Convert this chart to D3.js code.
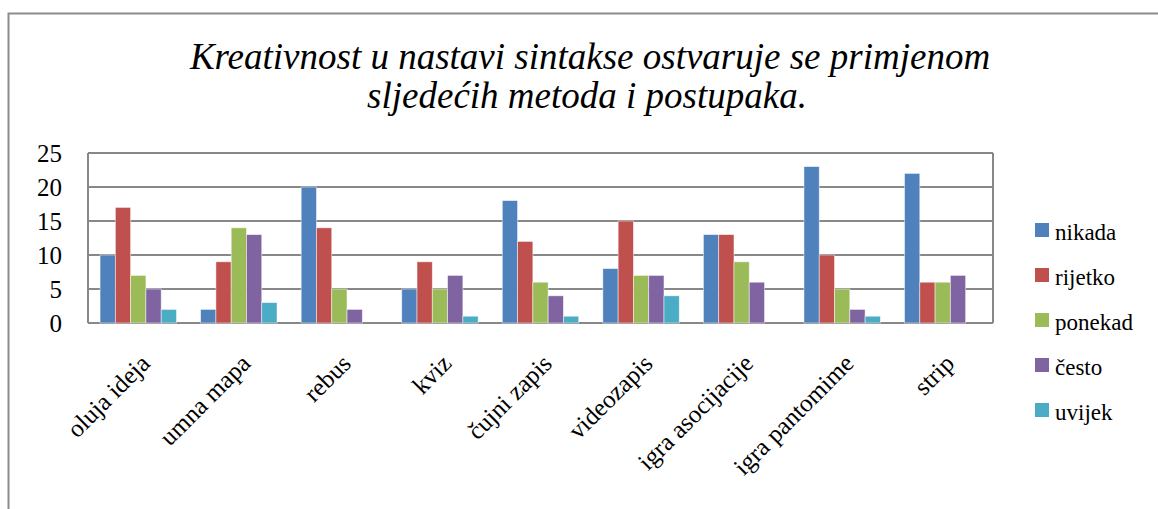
<!DOCTYPE html>
<html>
<head>
<meta charset="utf-8">
<script src="https://cdn.jsdelivr.net/npm/d3@7"></script>
<style>
  body { margin: 0; background: #fff; }
</style>
</head>
<body>
<div id="chart"></div>
<script>
var categories = ['oluja ideja', 'umna mapa', 'rebus', 'kviz', 'čujni zapis', 'videozapis', 'igra asocijacije', 'igra pantomime', 'strip'];
var seriesNames = ['nikada', 'rijetko', 'ponekad', 'često', 'uvijek'];
var nikada = [10, 2, 20, 5, 18, 8, 13, 23, 22];
var rijetko = [17, 9, 14, 9, 12, 15, 13, 10, 6];
var ponekad = [7, 14, 5, 5, 6, 7, 9, 5, 6];
var cesto = [5, 13, 2, 7, 4, 7, 6, 2, 7];
var uvijek = [2, 3, 0, 1, 1, 4, 0, 1, 0];
var yTicks = [0, 5, 10, 15, 20, 25];
var colors = ['#4F81BD', '#C0504D', '#9BBB59', '#8064A2', '#4BACC6'];

var series = [nikada, rijetko, ponekad, cesto, uvijek];

var width = 1158, height = 509;
var plot = { left: 88, right: 993, top: 153, bottom: 323 };
var serif = '"Liberation Serif", "Times New Roman", Times, serif';

var svg = d3.select('#chart')
    .append('svg')
    .attr('width', width)
    .attr('height', height);

// outer frame
svg.append('path')
    .attr('d', 'M8.5,' + height + ' V13.5 H' + width)
    .attr('fill', 'none')
    .attr('stroke', '#8c8c8c')
    .attr('stroke-width', 2);

// title
svg.append('text')
    .attr('x', 590).attr('y', 69)
    .attr('text-anchor', 'middle')
    .style('font-family', serif)
    .style('font-style', 'italic')
    .style('font-size', '37px')
    .text('Kreativnost u nastavi sintakse ostvaruje se primjenom');
svg.append('text')
    .attr('x', 587).attr('y', 108)
    .attr('text-anchor', 'middle')
    .style('font-family', serif)
    .style('font-style', 'italic')
    .style('font-size', '37px')
    .text('sljedećih metoda i postupaka.');

var x0 = d3.scaleBand()
    .domain(categories)
    .range([plot.left, plot.right])
    .paddingInner(0.24)
    .paddingOuter(0.12);

var x1 = d3.scaleBand()
    .domain(seriesNames)
    .range([0, x0.bandwidth()]);

var y = d3.scaleLinear()
    .domain([0, 25])
    .range([plot.bottom, plot.top]);

// gridlines
svg.append('g')
    .selectAll('line')
    .data(yTicks)
    .enter()
    .append('line')
    .attr('x1', plot.left)
    .attr('x2', plot.right)
    .attr('y1', function(d) { return y(d); })
    .attr('y2', function(d) { return y(d); })
    .attr('stroke', '#888')
    .attr('stroke-width', 2);

// plot box sides
svg.append('line')
    .attr('x1', plot.left).attr('x2', plot.left)
    .attr('y1', plot.top).attr('y2', plot.bottom)
    .attr('stroke', '#888').attr('stroke-width', 2);
svg.append('line')
    .attr('x1', plot.right).attr('x2', plot.right)
    .attr('y1', plot.top).attr('y2', plot.bottom)
    .attr('stroke', '#888').attr('stroke-width', 2);

// y tick labels
svg.append('g')
    .selectAll('text')
    .data(yTicks)
    .enter()
    .append('text')
    .attr('x', 62)
    .attr('y', function(d) { return y(d) + 9; })
    .attr('text-anchor', 'end')
    .style('font-family', serif)
    .style('font-size', '25px')
    .text(function(d) { return d; });

// bars
var groups = svg.append('g')
    .selectAll('g')
    .data(categories)
    .enter()
    .append('g')
    .attr('transform', function(d) { return 'translate(' + x0(d) + ',0)'; });

groups.selectAll('rect')
    .data(function(d, i) {
        return seriesNames.map(function(s, j) { return { key: s, value: series[j][i], idx: j }; });
    })
    .enter()
    .append('rect')
    .filter(function(d) { return d.value > 0; })
    .attr('x', function(d) { return x1(d.key); })
    .attr('width', x1.bandwidth())
    .attr('y', function(d) { return y(d.value); })
    .attr('height', function(d) { return y(0) - y(d.value); })
    .attr('fill', function(d) { return colors[d.idx]; })
    .attr('stroke', 'rgba(255,255,255,0.6)')
    .attr('stroke-width', 0.8);

// category labels
svg.append('g')
    .selectAll('text')
    .data(categories)
    .enter()
    .append('text')
    .attr('transform', function(d) {
        return 'translate(' + (x0(d) + x0.bandwidth() / 2 + 13) + ',' + 365 + ') rotate(-45)';
    })
    .attr('text-anchor', 'end')
    .style('font-family', serif)
    .style('font-size', '25px')
    .text(function(d) { return d; });

// legend
var legend = svg.append('g')
    .selectAll('g')
    .data(seriesNames)
    .enter()
    .append('g')
    .attr('transform', function(d, i) { return 'translate(1035,' + (230 + i * 45) + ')'; });

legend.append('rect')
    .attr('x', 0)
    .attr('y', -7)
    .attr('width', 14)
    .attr('height', 14)
    .attr('fill', function(d, i) { return colors[i]; });

legend.append('text')
    .attr('x', 20)
    .attr('y', 10)
    .style('font-family', serif)
    .style('font-size', '23px')
    .text(function(d) { return d; });
</script>
</body>
</html>
